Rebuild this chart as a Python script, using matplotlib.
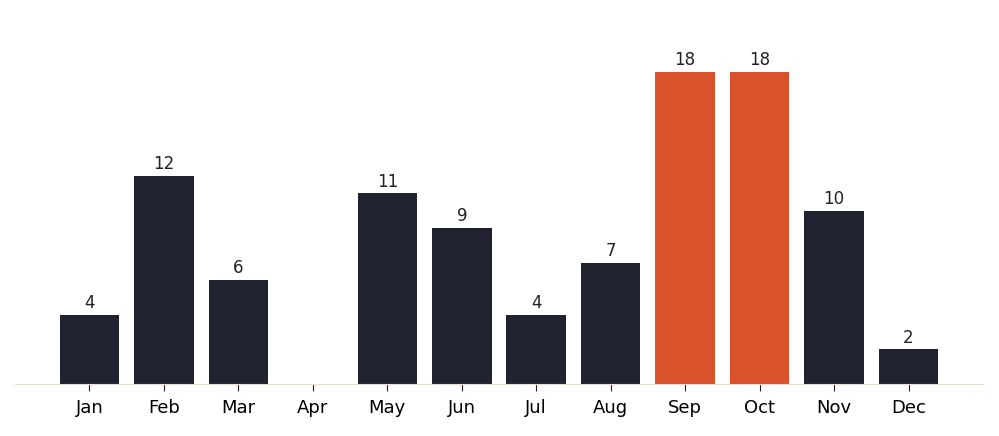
import matplotlib
matplotlib.use("Agg")
import matplotlib.pyplot as plt

months = ["Jan","Feb","Mar","Apr","May","Jun","Jul","Aug","Sep","Oct","Nov","Dec"]
values = [4,12,6,0,11,9,4,7,18,18,10,2]
highlight = ["Sep","Oct"]

fig = plt.figure(figsize=(9.99,4.36), dpi=100)
ax = fig.add_axes([0.015,0.119,0.969,0.835])
colors = ["#d9522b" if m in highlight else "#20232f" for m in months]
x = range(len(months))
bars = ax.bar(x, values, width=0.8, color=colors)
for xi, v in zip(x, values):
    if v > 0:
        ax.text(xi, v+0.15, str(v), ha="center", va="bottom", fontsize=12, color="#222222")
ax.set_xticks(list(x))
ax.set_xticklabels(months, fontsize=13)
ax.set_yticks([])
ax.set_xlim(-1, 12)
ax.set_ylim(0, 21)
for s in ["top","right","left"]:
    ax.spines[s].set_visible(False)
ax.spines["bottom"].set_color("#e6dcd0")
ax.tick_params(axis="x", length=5, color="#20232f", pad=6)
fig.savefig("out.png", dpi=100)
